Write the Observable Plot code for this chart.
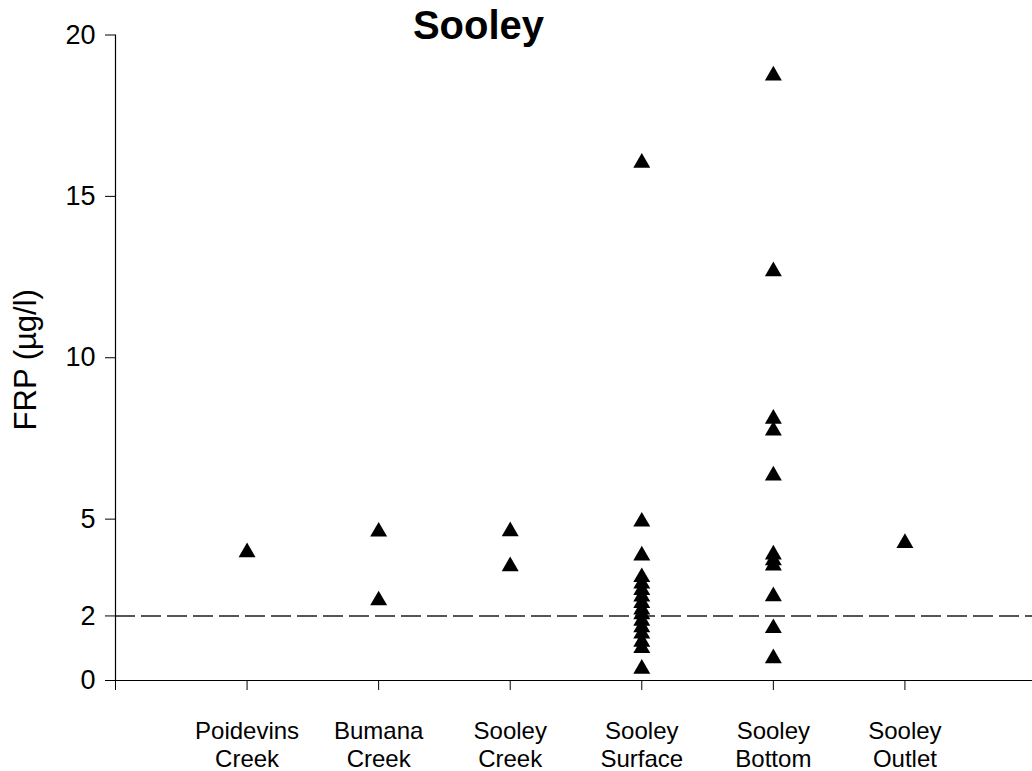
<!DOCTYPE html>
<html>
<head>
<meta charset="utf-8">
<script src="https://cdn.jsdelivr.net/npm/d3@7"></script>
<script src="https://cdn.jsdelivr.net/npm/@observablehq/plot@0.6"></script>
<style>
  html, body { margin: 0; padding: 0; background: #fff; overflow: hidden; }
  #chart svg { display: block; }
</style>
</head>
<body>
<div id="chart"></div>
<script>
// Sampling sites, left to right
const sites = [
  "Poidevins\nCreek",
  "Bumana\nCreek",
  "Sooley\nCreek",
  "Sooley\nSurface",
  "Sooley\nBottom",
  "Sooley\nOutlet"
];

// FRP measurements (µg/l) per site
const poidevinsCreek = [3.97];
const bumanaCreek = [4.61, 2.48];
const sooleyCreek = [4.62, 3.54];
const sooleySurface = [16.04, 4.92, 3.87, 3.2, 3.0, 2.8, 2.6, 2.4, 2.2, 2.05, 1.85, 1.65, 1.45, 1.2, 1.0, 0.36];
const sooleyBottom = [18.74, 12.68, 8.11, 7.74, 6.35, 3.9, 3.72, 3.56, 2.61, 1.62, 0.69];
const sooleyOutlet = [4.26];

const yTicks = [0, 2, 5, 10, 15, 20];
const detectionLimit = 2;
const title = "Sooley";
const yTitle = "FRP (µg/l)";

const series = [poidevinsCreek, bumanaCreek, sooleyCreek, sooleySurface, sooleyBottom, sooleyOutlet];
const rows = [];
series.forEach((values, i) => values.forEach(v => rows.push({site: i + 1, frp: v})));

const font = "'Liberation Sans', Arial, Helvetica, sans-serif";

const chart = Plot.plot({
  width: 1032,
  height: 771,
  marginLeft: 115,
  marginTop: 34.5,
  marginBottom: 91,
  marginRight: 0,
  style: {fontFamily: font, fontSize: "24px", color: "#000", background: "#fff", overflow: "visible"},
  x: {domain: [0, 7], range: [115, 1036]},
  y: {domain: [0, 20], range: [680, 34.5]},
  marks: [
    Plot.ruleY([detectionLimit], {x1: 0, x2: 7, stroke: "#555", strokeWidth: 2, strokeDasharray: "20,6"}),
    Plot.ruleX([0], {y1: 0, y2: 20, stroke: "#000", strokeWidth: 1.2}),
    Plot.ruleY([0], {x1: 0, x2: 7, stroke: "#000", strokeWidth: 1.2}),
    Plot.axisY({ticks: yTicks, tickSize: 10, tickPadding: 10, fontSize: 27, label: null, stroke: "#000"}),
    Plot.axisX({
      ticks: d3.range(0, 7),
      tickSize: 10,
      tickPadding: 28,
      fontSize: 24,
      lineHeight: 1.18,
      tickFormat: i => (i === 0 ? "" : sites[i - 1]),
      label: null,
      stroke: "#000"
    }),
    Plot.dot(rows, {x: "site", y: "frp", symbol: "triangle", r: 6.3, fill: "#000", stroke: null}),
    Plot.text([yTitle], {frameAnchor: "left", rotate: -90, dx: -89, dy: 2, fontSize: 31, textAnchor: "middle", lineAnchor: "middle"}),
    Plot.text([title], {frameAnchor: "top", dx: -95.5, dy: -24.5, fontSize: 40, fontWeight: "bold", textAnchor: "middle", lineAnchor: "top"})
  ]
});

document.getElementById("chart").appendChild(chart);
</script>
</body>
</html>
